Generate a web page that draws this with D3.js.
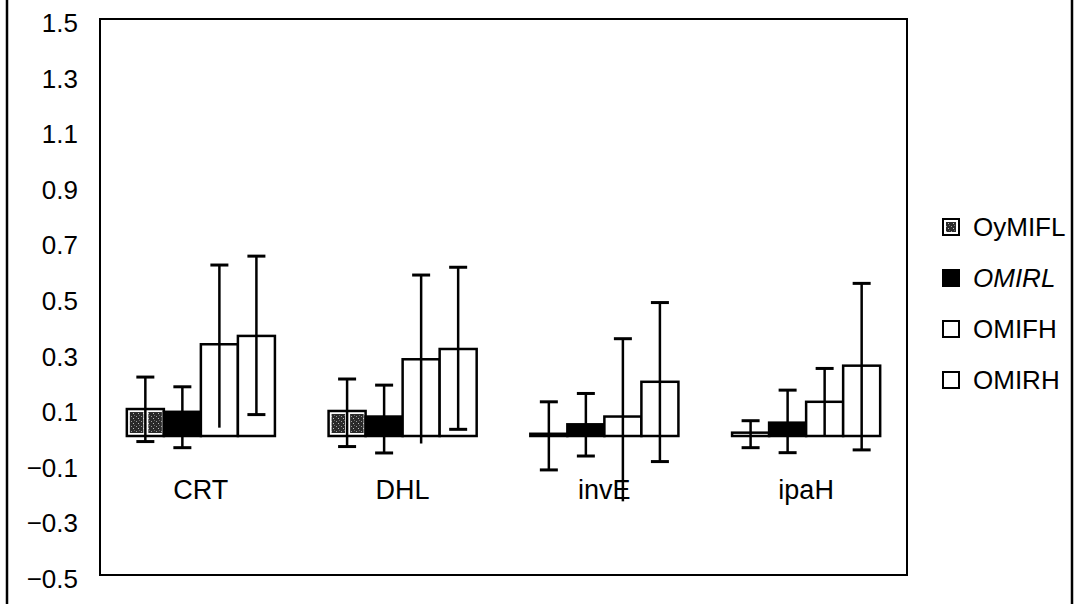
<!DOCTYPE html>
<html><head><meta charset="utf-8">
<script src="https://cdn.jsdelivr.net/npm/d3@7"></script>
<style>html,body{margin:0;padding:0;background:#fff;}svg{display:block;}</style>
</head><body>
<svg id="chart" width="1076" height="604"></svg>
<script>
const categories = ["CRT", "DHL", "invE", "ipaH"];
const seriesNames = ["OyMIFL", "OMIRL", "OMIFH", "OMIRH"];
const yTicks = [1.5, 1.3, 1.1, 0.9, 0.7, 0.5, 0.3, 0.1, -0.1, -0.3, -0.5];
// bar values per series (ordered by category)
const valOyMIFL = [0.097, 0.090, 0.008, 0.012];
const valOMIRL  = [0.087, 0.070, 0.042, 0.048];
const valOMIFH  = [0.330, 0.276, 0.070, 0.123];
const valOMIRH  = [0.360, 0.313, 0.195, 0.253];
// error bar ends
const hiOyMIFL = [0.212, 0.205, 0.123, 0.055];
const loOyMIFL = [-0.020, -0.038, -0.122, -0.042];
const hiOMIRL  = [0.177, 0.183, 0.153, 0.165];
const loOMIRL  = [-0.042, -0.061, -0.072, -0.060];
const hiOMIFH  = [0.615, 0.579, 0.350, 0.243];
const loOMIFH  = [0.030, -0.027, -0.235, 0.003];
const hiOMIRH  = [0.647, 0.607, 0.480, 0.549];
const loOMIRH  = [0.077, 0.024, -0.092, -0.050];

const vals = [valOyMIFL, valOMIRL, valOMIFH, valOMIRH];
const his = [hiOyMIFL, hiOMIRL, hiOMIFH, hiOMIRH];
const los = [loOyMIFL, loOMIRL, loOMIFH, loOMIRH];

const svg = d3.select("#chart");
const font = "'Liberation Sans', Arial, sans-serif";
const L = 100, R = 907, T = 19, B = 575;

const defs = svg.append("defs");
const pat = defs.append("pattern").attr("id", "speck").attr("patternUnits", "userSpaceOnUse")
  .attr("width", 5).attr("height", 5);
pat.append("rect").attr("width", 5).attr("height", 5).attr("fill", "#2a2a2a");
pat.append("rect").attr("x", 1).attr("y", 1).attr("width", 1).attr("height", 1).attr("fill", "#9a9a9a");
pat.append("rect").attr("x", 3).attr("y", 3).attr("width", 1).attr("height", 1).attr("fill", "#bbbbbb");
pat.append("rect").attr("x", 4).attr("y", 0).attr("width", 1).attr("height", 1).attr("fill", "#666");

const y = d3.scaleLinear().domain([-0.5, 1.5]).range([B, T]);
const x0 = d3.scaleBand().domain(categories).range([L, R]).paddingInner(0.266).paddingOuter(0.133);
const x1 = d3.scaleBand().domain(seriesNames).range([0, x0.bandwidth()]);

// outer frame lines
svg.append("line").attr("x1", 7).attr("x2", 7).attr("y1", 0).attr("y2", 604).attr("stroke", "#000").attr("stroke-width", 2.5);
svg.append("line").attr("x1", 1072).attr("x2", 1072).attr("y1", 0).attr("y2", 604).attr("stroke", "#000").attr("stroke-width", 2.5);

// y tick labels
svg.append("g").selectAll("text").data(yTicks).join("text")
  .attr("x", 78).attr("y", d => y(d) + 4)
  .attr("text-anchor", "end").attr("dominant-baseline", "central")
  .attr("font-family", font).attr("font-size", 26).attr("fill", "#000")
  .text(d => (d < 0 ? "\u2212" : "") + Math.abs(d).toFixed(1));

// category labels
svg.append("g").selectAll("text").data(categories).join("text")
  .attr("x", d => x0(d) + x0.bandwidth() / 2).attr("y", y(-0.225))
  .attr("text-anchor", "middle")
  .attr("font-family", font).attr("font-size", 27).attr("fill", "#000")
  .text(d => d);

// plot box
svg.append("rect").attr("x", L).attr("y", T).attr("width", R - L).attr("height", B - T)
  .attr("fill", "none").attr("stroke", "#000").attr("stroke-width", 2);

// bars
const bw = x1.bandwidth();
const gBars = svg.append("g");
seriesNames.forEach((s, si) => {
  categories.forEach((c, ci) => {
    const v = vals[si][ci];
    const bx = x0(c) + x1(s);
    const top = y(Math.max(v, 0)), bot = y(Math.min(v, 0));
    const h = Math.max(bot - top, 0);
    const fill = si === 1 ? "#000" : "#fff";
    gBars.append("rect").attr("x", bx).attr("y", top).attr("width", bw).attr("height", h)
      .attr("fill", fill).attr("stroke", "#000").attr("stroke-width", 2.5);
    if (si === 0 && h > 8) {
      const half = bw / 2;
      [0, 1].forEach(k => {
        gBars.append("rect").attr("x", bx + k * half + 3).attr("y", top + 3)
          .attr("width", half - 5).attr("height", h - 6).attr("fill", "url(#speck)");
      });
    }
  });
});

// error bars
const gErr = svg.append("g").attr("stroke", "#000");
seriesNames.forEach((s, si) => {
  categories.forEach((c, ci) => {
    const cx = x0(c) + x1(s) + bw / 2;
    const hi = his[si][ci], lo = los[si][ci];
    gErr.append("line").attr("x1", cx).attr("x2", cx).attr("y1", y(hi)).attr("y2", y(lo)).attr("stroke-width", 2.5);
    gErr.append("line").attr("x1", cx - 9).attr("x2", cx + 9).attr("y1", y(hi)).attr("y2", y(hi)).attr("stroke-width", 3);
    if (si !== 2) {
      gErr.append("line").attr("x1", cx - 9).attr("x2", cx + 9).attr("y1", y(lo)).attr("y2", y(lo)).attr("stroke-width", 3);
    }
  });
});

// legend
const legY = [227, 278, 329, 380];
const gLeg = svg.append("g");
seriesNames.forEach((s, si) => {
  const ly = legY[si];
  const mx = 943, ms = 16;
  gLeg.append("rect").attr("x", mx).attr("y", ly - ms / 2).attr("width", ms).attr("height", ms)
    .attr("fill", si === 1 ? "#000" : "#fff").attr("stroke", "#000").attr("stroke-width", 2);
  if (si === 0) {
    gLeg.append("rect").attr("x", mx + 3).attr("y", ly - ms / 2 + 3).attr("width", ms - 6).attr("height", ms - 6)
      .attr("fill", "url(#speck)");
  }
  gLeg.append("text").attr("x", 973).attr("y", ly).attr("dominant-baseline", "central")
    .attr("font-family", font).attr("font-size", 26).attr("fill", "#000")
    .attr("font-style", si === 1 ? "italic" : "normal")
    .text(s);
});
</script>
</body></html>
